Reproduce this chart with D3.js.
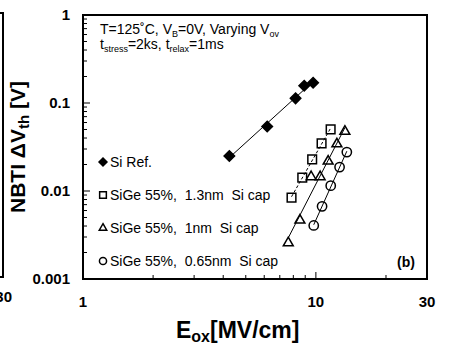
<!DOCTYPE html>
<html>
<head>
<meta charset="utf-8">
<script src="https://cdn.jsdelivr.net/npm/d3@7"></script>
<style>
  body { margin: 0; background: #fff; }
  text { font-family: "Liberation Sans", Arial, sans-serif; }
</style>
</head>
<body>
<div id="container"></div>
<script>
// values
const xTicks = [1, 10, 30];
const yTicks = [0.001, 0.01, 0.1, 1];
const yTickLabels = ['0.001', '0.01', '0.1', '1'];

const siRefE = [4.25, 6.18, 8.18, 8.91, 9.73];
const siRefV = [0.025, 0.054, 0.113, 0.157, 0.170];

const cap13E = [7.86, 8.74, 9.64, 10.58, 11.57];
const cap13V = [0.0084, 0.0142, 0.0229, 0.0348, 0.0502];

const cap10E = [7.61, 8.54, 9.54, 10.43, 11.29, 12.31, 13.32];
const cap10V = [0.00257, 0.00465, 0.0145, 0.0145, 0.0218, 0.0342, 0.0475];

const cap065E = [9.79, 10.63, 11.58, 12.64, 13.58];
const cap065V = [0.00406, 0.0067, 0.0115, 0.0187, 0.0277];

const seriesNames = ['Si Ref.', 'SiGe 55%,  1.3nm  Si cap', 'SiGe 55%,  1nm  Si cap', 'SiGe 55%,  0.65nm  Si cap'];

const margin = { top: 15, right: 26, bottom: 75, left: 83 };
const width = 453 - margin.left - margin.right;
const height = 354 - margin.top - margin.bottom;

const svg = d3.select('#container')
  .append('svg')
  .attr('width', 453)
  .attr('height', 354);

// remains of the neighbouring panel on the left
svg.append('path')
  .attr('d', 'M0,13H3V277H0')
  .attr('fill', 'none')
  .attr('stroke', '#000')
  .attr('stroke-width', 2);
svg.append('text')
  .attr('x', 12).attr('y', 302)
  .attr('text-anchor', 'end')
  .attr('font-size', 15).attr('font-weight', 'bold')
  .text('30');

const g = svg.append('g')
  .attr('transform', 'translate(' + margin.left + ',' + margin.top + ')');

const xScale = d3.scaleLog().domain([1, 30]).range([0, width]);
const yScale = d3.scaleLog().domain([0.001, 1]).range([height, 0]);

// minor / major ticks, pointing inward
const xMinor = [2, 3, 4, 5, 6, 7, 8, 9, 20];
const yMinor = [];
[0.001, 0.01, 0.1].forEach(dec => {
  for (let k = 2; k <= 9; k++) yMinor.push(dec * k);
});

g.selectAll('.xminor').data(xMinor).enter().append('line')
  .attr('x1', d => xScale(d)).attr('x2', d => xScale(d))
  .attr('y1', height).attr('y2', height - 4)
  .attr('stroke', '#000').attr('stroke-width', 1);
g.selectAll('.xmajor').data([10]).enter().append('line')
  .attr('x1', d => xScale(d)).attr('x2', d => xScale(d))
  .attr('y1', height).attr('y2', height - 7)
  .attr('stroke', '#000').attr('stroke-width', 1);

g.selectAll('.yminor').data(yMinor).enter().append('line')
  .attr('x1', 0).attr('x2', 4)
  .attr('y1', d => yScale(d)).attr('y2', d => yScale(d))
  .attr('stroke', '#000').attr('stroke-width', 1);
g.selectAll('.ymajor').data([0.01, 0.1]).enter().append('line')
  .attr('x1', 0).attr('x2', 7)
  .attr('y1', d => yScale(d)).attr('y2', d => yScale(d))
  .attr('stroke', '#000').attr('stroke-width', 1);

// tick labels
g.selectAll('.xlab').data(xTicks).enter().append('text')
  .attr('x', d => xScale(d)).attr('y', height + 28)
  .attr('text-anchor', 'middle')
  .attr('font-size', 15).attr('font-weight', 'bold')
  .text(d => d);

g.selectAll('.ylab').data(yTicks).enter().append('text')
  .attr('x', -13).attr('y', d => yScale(d) + 5)
  .attr('text-anchor', 'end')
  .attr('font-size', 15).attr('font-weight', 'bold')
  .text((d, i) => yTickLabels[i]);

// frame
g.append('rect')
  .attr('width', width).attr('height', height)
  .attr('fill', 'none').attr('stroke', '#000').attr('stroke-width', 2);

// axis titles
const yt = svg.append('text')
  .attr('transform', 'translate(25,' + (margin.top + height / 2) + ') rotate(-90)')
  .attr('text-anchor', 'middle')
  .attr('font-size', 21).attr('font-weight', 'bold');
yt.append('tspan').text('NBTI ΔV');
yt.append('tspan').attr('font-size', 15).attr('dy', 4).text('th');
yt.append('tspan').attr('dy', -4).text(' [V]');

const xt = svg.append('text')
  .attr('x', 176).attr('y', 338)
  .attr('font-size', 23).attr('font-weight', 'bold');
xt.append('tspan').text('E');
xt.append('tspan').attr('font-size', 16).attr('dy', 4).text('ox');
xt.append('tspan').attr('dy', -4).text('[MV/cm]');

// annotation
const t1 = g.append('text').attr('x', 17).attr('y', 19).attr('font-size', 14);
t1.append('tspan').text('T=125˚C, V');
t1.append('tspan').attr('font-size', 9).attr('dy', 3).text('B');
t1.append('tspan').attr('dy', -3).text('=0V, Varying V');
t1.append('tspan').attr('font-size', 9).attr('dy', 3).text('ov');

const t2 = g.append('text').attr('x', 17).attr('y', 34).attr('font-size', 14);
t2.append('tspan').text('t');
t2.append('tspan').attr('font-size', 9).attr('dy', 3).text('stress');
t2.append('tspan').attr('dy', -3).text('=2ks, t');
t2.append('tspan').attr('font-size', 9).attr('dy', 3).text('relax');
t2.append('tspan').attr('dy', -3).text('=1ms');

g.append('text')
  .attr('x', width - 12).attr('y', height - 12)
  .attr('text-anchor', 'end')
  .attr('font-size', 14).attr('font-weight', 'bold')
  .text('(b)');

// power-law fit in log-log space, drawn over the data range
function fitLine(xs, ys) {
  const lx = xs.map(Math.log10), ly = ys.map(Math.log10);
  const mx = d3.mean(lx), my = d3.mean(ly);
  const b = d3.sum(lx, (v, i) => (v - mx) * (ly[i] - my)) / d3.sum(lx, v => (v - mx) * (v - mx));
  const a = my - b * mx;
  const x0 = d3.min(xs), x1 = d3.max(xs);
  return [[x0, Math.pow(10, a + b * Math.log10(x0))], [x1, Math.pow(10, a + b * Math.log10(x1))]];
}

const line = d3.line().x(d => xScale(d[0])).y(d => yScale(d[1]));

const zip = (xs, ys) => xs.map((x, i) => [x, ys[i]]);

g.append('path').datum(fitLine(siRefE, siRefV))
  .attr('d', line).attr('fill', 'none').attr('stroke', '#000').attr('stroke-width', 1);
g.append('path').datum(fitLine(cap13E, cap13V))
  .attr('d', line).attr('fill', 'none').attr('stroke', '#000').attr('stroke-width', 1)
  .attr('stroke-dasharray', '3,2');
g.append('path').datum(fitLine(cap10E, cap10V))
  .attr('d', line).attr('fill', 'none').attr('stroke', '#000').attr('stroke-width', 1);
g.append('path').datum(fitLine(cap065E, cap065V))
  .attr('d', line).attr('fill', 'none').attr('stroke', '#000').attr('stroke-width', 1);

// markers
const sym = {
  diamond: d3.symbol().type(d3.symbolDiamond2).size(70),
  square: d3.symbol().type(d3.symbolSquare).size(75),
  triangle: d3.symbol().type(d3.symbolTriangle2).size(70),
  circle: d3.symbol().type(d3.symbolCircle).size(68)
};
const legSym = {
  diamond: d3.symbol().type(d3.symbolDiamond2).size(40),
  square: d3.symbol().type(d3.symbolSquare).size(45),
  triangle: d3.symbol().type(d3.symbolTriangle2).size(40),
  circle: d3.symbol().type(d3.symbolCircle).size(40)
};

function drawSeries(xs, ys, shape, filled) {
  g.append('g').selectAll('path').data(zip(xs, ys)).enter().append('path')
    .attr('transform', d => 'translate(' + xScale(d[0]) + ',' + yScale(d[1]) + ')')
    .attr('d', sym[shape])
    .attr('fill', filled ? '#000' : 'none')
    .attr('stroke', '#000').attr('stroke-width', 1.5);
}

drawSeries(siRefE, siRefV, 'diamond', true);
drawSeries(cap13E, cap13V, 'square', false);
drawSeries(cap10E, cap10V, 'triangle', false);
drawSeries(cap065E, cap065V, 'circle', false);

// legend
const legShapes = ['diamond', 'square', 'triangle', 'circle'];
const legY = [147, 180, 213, 246];
legShapes.forEach((s, i) => {
  g.append('path')
    .attr('transform', 'translate(20,' + legY[i] + ')')
    .attr('d', legSym[s])
    .attr('fill', i === 0 ? '#000' : 'none')
    .attr('stroke', '#000').attr('stroke-width', 1.5);
  g.append('text')
    .attr('x', 27).attr('y', legY[i] + 5)
    .attr('font-size', 14)
    .style('white-space', 'pre')
    .text(seriesNames[i]);
});
</script>
</body>
</html>
